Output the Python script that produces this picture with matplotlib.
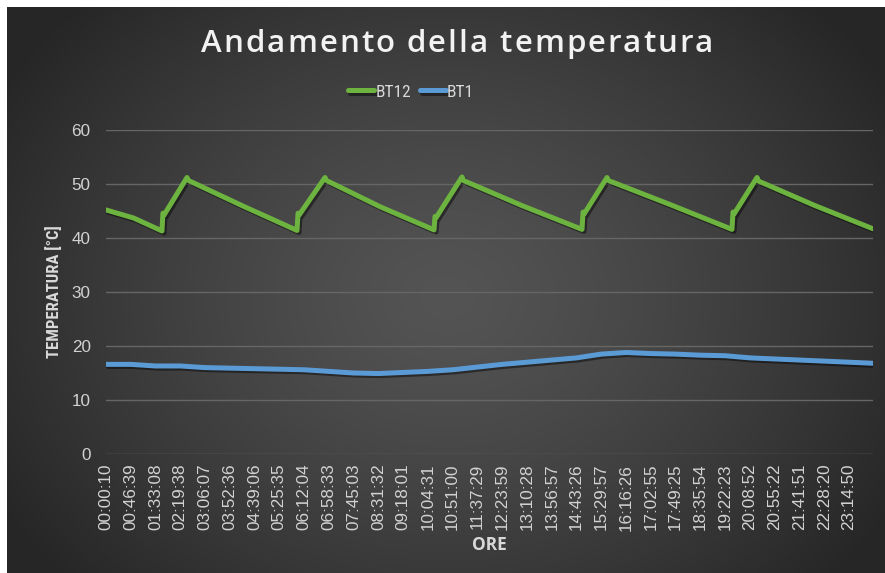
import numpy as np
import matplotlib
matplotlib.use("Agg")
import matplotlib.pyplot as plt
import matplotlib.patheffects as pe

# -------- DATA ----------
TICK_LABELS = ["00:00:10", "00:46:39", "01:33:08", "02:19:38", "03:06:07", "03:52:36",
               "04:39:06", "05:25:35", "06:12:04", "06:58:33", "07:45:03", "08:31:32",
               "09:18:01", "10:04:31", "10:51:00", "11:37:29", "12:23:59", "13:10:28",
               "13:56:57", "14:43:26", "15:29:57", "16:16:26", "17:02:55", "17:49:25",
               "18:35:54", "19:22:23", "20:08:52", "20:55:22", "21:41:51", "22:28:20",
               "23:14:50"]

# BT12 (boiler) - sawtooth vertices
bt12_time = ["00:00:10", "00:52:00", "01:45:17", "01:47:00", "01:49:20", "02:32:13", "02:36:00",
             "04:15:28", "05:58:42", "06:00:40", "06:03:00", "06:51:16", "06:55:00",
             "08:34:31", "10:15:53", "10:17:50", "10:20:00", "11:08:26", "11:12:10",
             "13:01:04", "14:53:44", "14:55:40", "14:58:00", "15:40:38", "15:44:20",
             "17:38:54", "19:35:16", "19:37:10", "19:39:30", "20:22:12", "20:26:00",
             "22:11:05", "23:59:59"]
bt12_temp = [45.2, 43.7, 41.3, 44.6, 44.3, 51.2, 50.6,
             46.0, 41.4, 44.6, 44.3, 51.2, 50.6,
             45.8, 41.5, 44.0, 43.8, 51.3, 50.6,
             46.0, 41.6, 44.8, 44.5, 51.2, 50.6,
             46.2, 41.6, 44.8, 44.5, 51.2, 50.5,
             46.0, 41.7]

# BT1 (ambient) - read at each axis label, plus the end of the day
bt1_time = TICK_LABELS + ["23:59:59"]
bt1_temp = [16.6, 16.6, 16.3, 16.3, 16.0, 15.9, 15.8, 15.7, 15.6, 15.3, 15.0,
            14.9, 15.1, 15.3, 15.6, 16.1, 16.6, 17.0, 17.4, 17.8, 18.5, 18.8,
            18.6, 18.5, 18.3, 18.2, 17.8, 17.6, 17.4, 17.2, 17.0, 16.8]
# -------------------------

TITLE = "Andamento della temperatura"


def to_sec(s):
    h, m, sec = s.split(":")
    return int(h) * 3600 + int(m) * 60 + int(sec)


W, H = 885, 573
fig = plt.figure(figsize=(W / 100, H / 100), dpi=100, facecolor="white")

# dark radial gradient background (Excel style)
bg = fig.add_axes([7 / W, 0, (W - 7) / W, (H - 7) / H])
yy, xx = np.mgrid[0:H - 7, 0:W - 7]
r = np.sqrt(((xx - 440) / 520.0) ** 2 + ((yy - 290) / 420.0) ** 2)
r = np.clip(r, 0, 1)
shade = (84 - 46 * r ** 1.3) / 255.0
bg.imshow(np.dstack([shade, shade, shade]), aspect="auto", interpolation="bilinear")
bg.axis("off")

ax = fig.add_axes([106 / W, 119 / H, (873 - 106) / W, (454 - 130) / H])
ax.set_facecolor("none")

shadow = [pe.SimpleLineShadow(offset=(1.5, -1.5), shadow_color="black", alpha=0.45), pe.Normal()]
ax.plot([to_sec(t) for t in bt12_time], bt12_temp, color="#6DB33F", lw=3.6,
        solid_joinstyle="round", solid_capstyle="round", label="BT12", path_effects=shadow)
ax.plot([to_sec(t) for t in bt1_time], bt1_temp, color="#5B9BD5", lw=3.6,
        solid_joinstyle="round", solid_capstyle="round", label="BT1", path_effects=shadow)

ax.set_ylim(0, 60)
ax.set_yticks(range(0, 61, 10))
ax.set_xlim(10, 86400)
ax.set_xticks([to_sec(t) for t in TICK_LABELS])
ax.set_xticklabels(TICK_LABELS, rotation=90, va="top", ha="center")
ax.grid(axis="y", color="#666666", lw=1)
ax.set_axisbelow(True)
for sp in ax.spines.values():
    sp.set_visible(False)
ax.tick_params(length=0, colors="#d2d2d2", labelsize=12.3)
ax.tick_params(axis="y", pad=11)
ax.tick_params(axis="x", pad=7)
for lab in ax.get_xticklabels() + ax.get_yticklabels():
    lab.set_family("Liberation Sans")

narrow = ["Liberation Sans Narrow", "DejaVu Sans Condensed", "Roboto Condensed", "Roboto"]
ax.set_ylabel("TEMPERATURA [°C]", color="#d9d9d9", fontsize=12, fontweight="bold",
              family=narrow, labelpad=7)
ax.set_xlabel("ORE", color="#d9d9d9", fontsize=12.5, fontweight="bold",
              family=["Open Sans", "DejaVu Sans"], labelpad=4)

# letter-spaced title, laid out one glyph at a time
renderer = fig.canvas.get_renderer()
tkw = dict(color="#f2f2f2", fontsize=22.5, family="Open Sans", fontweight="semibold")


def text_w(s):
    t = fig.text(0, 0, s, **tkw)
    w = t.get_window_extent(renderer).width
    t.remove()
    return w


gap = 2.0
widths = []
for ch in TITLE:
    if ch == " ":
        widths.append(text_w("a a") - text_w("aa"))
    else:
        widths.append(text_w(ch))
total = sum(widths) + gap * (len(TITLE) - 1)
x = 457 - total / 2
for ch, w in zip(TITLE, widths):
    if ch != " ":
        fig.text(x / W, 1 - 44 / H, ch, ha="left", va="center", **tkw)
    x += w + gap

leg = ax.legend(loc="center", bbox_to_anchor=(411 / W, 1 - 92 / H),
                bbox_transform=fig.transFigure, ncol=2, frameon=False,
                handlelength=1.5, handletextpad=0.05, columnspacing=0.5,
                prop={"family": narrow, "size": 12.5})
for txt in leg.get_texts():
    txt.set_color("#d9d9d9")

fig.savefig("out.png", dpi=100, facecolor="white")
